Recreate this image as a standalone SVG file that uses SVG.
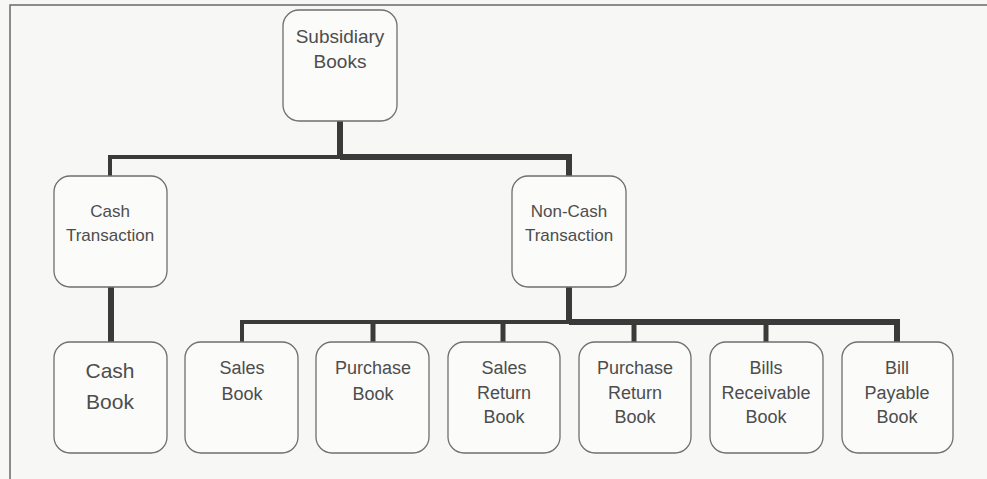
<svg xmlns="http://www.w3.org/2000/svg" width="987" height="479" viewBox="0 0 987 479">
<style>
.bg{fill:#f7f7f6}
.frame{fill:none;stroke:#6a6a6a;stroke-width:1.5}
.box{fill:#fbfbfa;stroke:#6f6f6f;stroke-width:1.3}
.t{font-family:"Liberation Sans",Arial,sans-serif;fill:#4d4d4d;text-anchor:middle}
.s16{font-size:17px}
.s18{font-size:18px}
.s19{font-size:19px}
.s21{font-size:21px}
.c{fill:none;stroke:#3a3a3a;stroke-linecap:butt;stroke-linejoin:miter}
</style>
<rect class="bg" x="0" y="0" width="987" height="479"/>
<path class="frame" d="M10,479 V5 H987"/>
<g id="connectors">
  <path class="c" stroke-width="6" d="M340,121 V157"/>
  <path class="c" stroke-width="4" d="M110,176 V157 H340"/>
  <path class="c" stroke-width="6" d="M340,157 H569 V176"/>
  <path class="c" stroke-width="6" d="M111,287 V342"/>
  <path class="c" stroke-width="6" d="M569,287 V322"/>
  <path class="c" stroke-width="4" d="M242,342 V322 H569"/>
  <path class="c" stroke-width="6" d="M569,322 H897 V342"/>
  <path class="c" stroke-width="5" d="M373,322 V342"/>
  <path class="c" stroke-width="5" d="M503,322 V342"/>
  <path class="c" stroke-width="5" d="M634,322 V342"/>
  <path class="c" stroke-width="5" d="M766,322 V342"/>
</g>
<g id="subsidiary-books">
  <rect class="box" x="283" y="10" width="114" height="111" rx="16"/>
  <text class="t s19" x="340" y="43">Subsidiary</text>
  <text class="t s19" x="340" y="68">Books</text>
</g>
<g id="cash-transaction">
  <rect class="box" x="54" y="176" width="113" height="111" rx="16"/>
  <text class="t s16" x="110" y="217">Cash</text>
  <text class="t s16" x="110" y="241">Transaction</text>
</g>
<g id="non-cash-transaction">
  <rect class="box" x="512" y="176" width="114" height="111" rx="16"/>
  <text class="t s16" x="569" y="217">Non-Cash</text>
  <text class="t s16" x="569" y="241">Transaction</text>
</g>
<g id="cash-book">
  <rect class="box" x="54" y="342" width="113" height="111" rx="16"/>
  <text class="t s21" x="110" y="378">Cash</text>
  <text class="t s21" x="110" y="409">Book</text>
</g>
<g id="sales-book">
  <rect class="box" x="185" y="342" width="113" height="111" rx="16"/>
  <text class="t s18" x="242" y="374">Sales</text>
  <text class="t s18" x="242" y="400">Book</text>
</g>
<g id="purchase-book">
  <rect class="box" x="316" y="342" width="113" height="111" rx="16"/>
  <text class="t s18" x="373" y="374">Purchase</text>
  <text class="t s18" x="373" y="400">Book</text>
</g>
<g id="sales-return-book">
  <rect class="box" x="448" y="342" width="112" height="111" rx="16"/>
  <text class="t s18" x="504" y="374">Sales</text>
  <text class="t s18" x="504" y="399">Return</text>
  <text class="t s18" x="504" y="423">Book</text>
</g>
<g id="purchase-return-book">
  <rect class="box" x="579" y="342" width="112" height="111" rx="16"/>
  <text class="t s18" x="635" y="374">Purchase</text>
  <text class="t s18" x="635" y="399">Return</text>
  <text class="t s18" x="635" y="423">Book</text>
</g>
<g id="bills-receivable-book">
  <rect class="box" x="710" y="342" width="113" height="111" rx="16"/>
  <text class="t s18" x="766" y="374">Bills</text>
  <text class="t s18" x="766" y="399">Receivable</text>
  <text class="t s18" x="766" y="423">Book</text>
</g>
<g id="bill-payable-book">
  <rect class="box" x="842" y="342" width="111" height="111" rx="16"/>
  <text class="t s18" x="897" y="374">Bill</text>
  <text class="t s18" x="897" y="399">Payable</text>
  <text class="t s18" x="897" y="423">Book</text>
</g>
</svg>
